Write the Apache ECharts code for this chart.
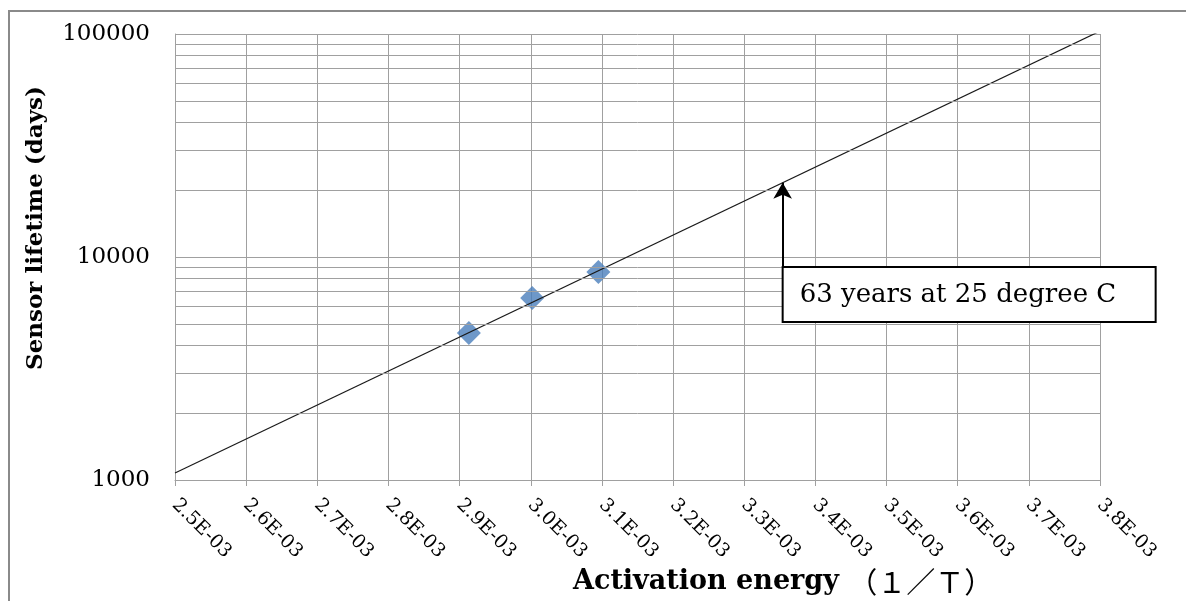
<!DOCTYPE html>
<html>
<head>
<meta charset="utf-8">
<script src="https://cdn.jsdelivr.net/npm/echarts@6/dist/echarts.min.js"></script>
<style>
  html, body { margin: 0; padding: 0; background: #ffffff; }
  #chart { width: 1186px; height: 601px; }
</style>
</head>
<body>
<div id="chart"></div>
<script>
// Measured lifetimes (days) against 1/T
const measuredX = [0.002913, 0.003002, 0.003095];
const measuredY = [4560, 6550, 8570];

// Exponential trend line, straight on the log axis
const trendX = [0.0025, 0.0038];
const trendY = [1075, 103000];

// Extrapolated lifetime at 25 °C (1/298.15 K)
const noteX = 0.003354;
const noteY = 21500;
const noteBoxY = 9016;
const noteText = '63 years at 25 degree C';

// Axis ranges and log sub-divisions
const xMin = 0.0025, xMax = 0.0038, xStep = 0.0001;
const yMin = 1000, yMax = 100000;
const minorGridValues = [2000, 3000, 4000, 5000, 6000, 7000, 8000, 9000,
  20000, 30000, 40000, 50000, 60000, 70000, 80000, 90000];

const xTitleMain = 'Activation energy ';
const xTitleUnit = '（１／Ｔ）';
const yTitle = 'Sensor lifetime (days)';

const gridColor = '#a0a0a0';
const serif = 'DejaVu Serif';

const chart = echarts.init(document.getElementById('chart'), null, { renderer: 'canvas' });

const option = {
  animation: false,
  backgroundColor: '#ffffff',
  grid: { left: 175, right: 86, top: 34, bottom: 121, containLabel: false },
  xAxis: {
    type: 'value',
    min: xMin, max: xMax, interval: xStep,
    axisLine: { show: true, lineStyle: { color: gridColor, width: 1 } },
    axisTick: { show: true, length: 6, lineStyle: { color: gridColor } },
    splitLine: { show: true, lineStyle: { color: gridColor, width: 1 } },
    axisLabel: {
      rotate: -45, margin: 22,
      fontFamily: serif, fontSize: 19, color: '#000',
      formatter: v => (v * 1000).toFixed(1) + 'E-03'
    }
  },
  yAxis: {
    type: 'log', logBase: 10, min: yMin, max: yMax,
    axisLine: { show: true, lineStyle: { color: gridColor, width: 1 } },
    axisTick: { show: false },
    splitLine: { show: true, lineStyle: { color: gridColor, width: 1 } },
    axisLabel: {
      margin: 25, fontFamily: serif, fontSize: 23, color: '#000',
      formatter: v => String(Math.round(v))
    }
  },
  series: [
    {
      // horizontal lines at 2..9 of each decade
      type: 'line', data: [], z: 1, silent: true,
      markLine: {
        silent: true, symbol: 'none', animation: false,
        label: { show: false },
        lineStyle: { color: gridColor, width: 1, type: 'solid' },
        data: minorGridValues.map(v => ({ yAxis: v }))
      }
    },
    {
      type: 'scatter', z: 3,
      symbol: 'diamond', symbolSize: 24,
      itemStyle: { color: '#4a7ebb' },
      data: measuredX.map((x, i) => [x, measuredY[i]])
    },
    {
      type: 'line', z: 4, clip: true,
      showSymbol: false, symbol: 'none',
      lineStyle: { color: '#1a1a1a', width: 1.2 },
      data: trendX.map((x, i) => [x, trendY[i]]),
      markLine: {
        silent: true, animation: false,
        symbol: ['none', 'arrow'], symbolSize: [14, 16],
        label: { show: false },
        lineStyle: { color: '#000', width: 2, type: 'solid' },
        data: [[{ coord: [noteX, noteBoxY] }, { coord: [noteX, noteY] }]]
      }
    }
  ]
};

chart.setOption(option);

// Callout box anchored at the foot of the arrow, plus frame and axis titles
const anchor = chart.convertToPixel({ gridIndex: 0 }, [noteX, noteBoxY]);
chart.setOption({
  graphic: [
    {
      type: 'rect', silent: true, z: 0,
      shape: { x: 9, y: 11, width: 1300, height: 700 },
      style: { fill: 'none', stroke: '#8a8a8a', lineWidth: 2 }
    },
    {
      type: 'rect', z: 100,
      shape: { x: anchor[0], y: anchor[1], width: 373, height: 55 },
      style: { fill: '#ffffff', stroke: '#000000', lineWidth: 2 }
    },
    {
      type: 'text', z: 101, x: anchor[0] + 17, y: anchor[1] + 28,
      style: {
        text: noteText, fill: '#000',
        font: '26px "' + serif + '"',
        align: 'left', verticalAlign: 'middle'
      }
    },
    {
      type: 'text', z: 100, x: 36, y: 228, rotation: Math.PI / 2,
      style: {
        text: yTitle, fill: '#000',
        font: 'bold 23px "' + serif + '"',
        align: 'center', verticalAlign: 'middle'
      }
    },
    {
      type: 'text', z: 100, x: 573, y: 582,
      style: {
        text: '{a|' + xTitleMain + '}{b|' + xTitleUnit + '}',
        fill: '#000', align: 'left', verticalAlign: 'middle',
        rich: {
          a: { fontFamily: serif, fontWeight: 'bold', fontSize: 27, fill: '#000' },
          b: { fontFamily: '"Noto Sans CJK JP"', fontWeight: 'normal', fontSize: 29, fill: '#000' }
        }
      }
    }
  ]
});
</script>
</body>
</html>
